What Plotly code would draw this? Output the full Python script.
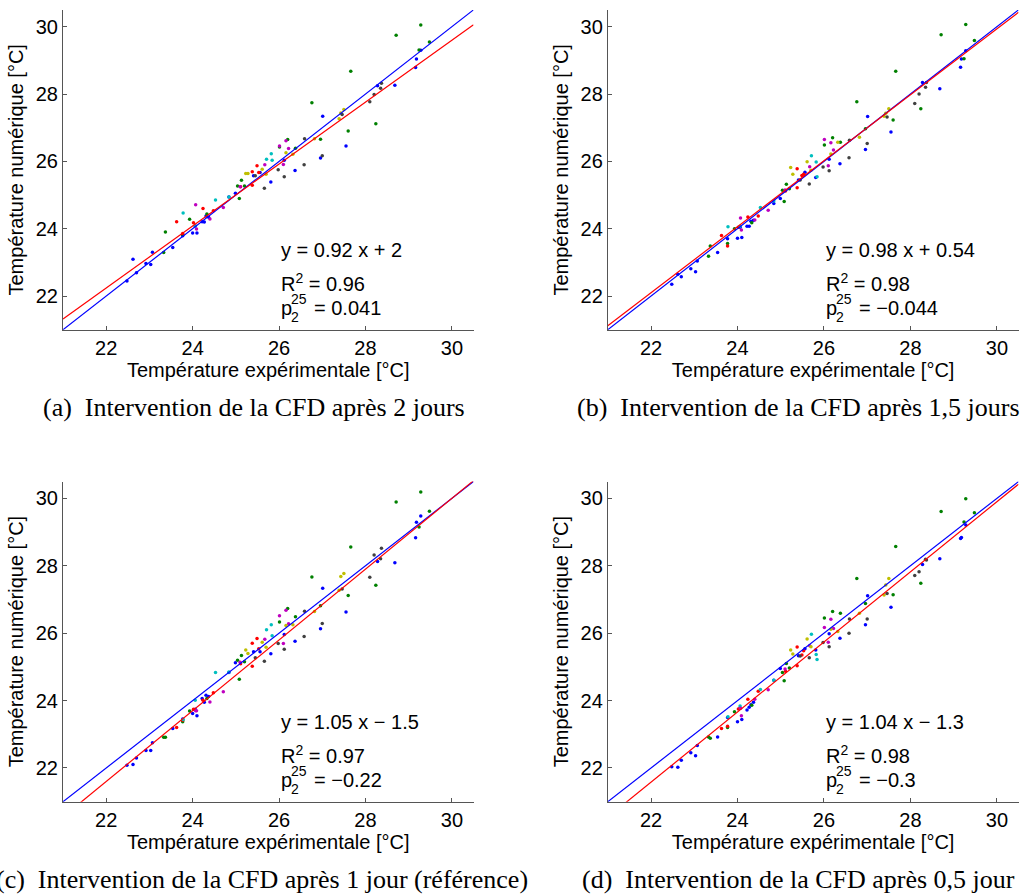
import plotly.graph_objects as go
from plotly.subplots import make_subplots

# ---- Measured (experimental) temperatures per sensor group [°C] ----
exp_blue = [22.48, 22.62, 22.70, 22.92, 23.03, 23.07, 23.54, 23.77, 24.00, 24.10,
            24.06, 24.22, 24.27, 24.31, 24.37, 24.84, 24.99, 25.41, 25.56, 25.81,
            26.12, 26.37, 26.96, 27.01, 27.55, 28.28, 28.68, 29.16, 29.18, 29.28]
exp_green = [23.33, 23.37, 23.77, 23.93, 24.33, 25.04, 25.08, 25.13, 25.20, 26.01,
             26.20, 26.38, 26.76, 26.96, 27.60, 27.66, 28.24, 28.71, 29.24, 29.28, 29.48]
exp_red = [23.63, 23.77, 24.02, 24.24, 24.48, 25.11, 25.38, 25.38, 25.49, 25.53]
exp_cyan = [23.78, 24.06, 24.53, 24.84, 25.71, 25.82, 25.84]
exp_magenta = [24.07, 24.09, 24.40, 24.71, 25.10, 25.67, 26.01, 26.10, 26.16, 26.22]
exp_yellow = [25.23, 25.28, 25.61, 25.70, 26.16, 26.32, 26.82, 27.39, 27.50, 27.43]
exp_gray = [25.45, 25.66, 25.98, 26.12, 26.58, 26.59, 27.00, 27.46, 28.10, 28.20, 28.35, 28.37]

# ---- Simulated temperatures, CFD after 2 days ----
num_a_blue = [22.45, 23.09, 22.69, 22.97, 22.94, 23.30, 23.44, 23.79, 23.87, 23.87,
              24.08, 24.21, 24.20, 24.38, 24.34, 24.94, 25.05, 25.57, 25.67, 25.39,
              26.03, 25.73, 26.10, 27.34, 26.46, 28.25, 28.26, 28.79, 29.04, 29.30]
num_a_green = [23.29, 23.90, 23.83, 24.28, 24.44, 25.27, 24.90, 25.44, 25.27, 26.43,
               26.65, 26.39, 27.74, 26.66, 26.90, 28.68, 27.12, 29.75, 29.31, 30.05, 29.55]
num_a_red = [24.21, 23.86, 24.18, 24.60, 24.53, 25.25, 25.29, 25.69, 25.87, 25.67]
num_a_cyan = [24.47, 24.08, 24.85, 24.94, 26.06, 26.23, 26.03]
num_a_magenta = [24.71, 23.99, 24.29, 24.63, 25.25, 25.90, 26.46, 25.91, 26.61, 26.38]
num_a_yellow = [25.64, 25.64, 25.77, 25.62, 26.26, 26.21, 26.67, 27.27, 27.54, 27.44]
num_a_gray = [25.57, 25.20, 25.75, 25.54, 25.90, 26.67, 26.17, 27.39, 27.77, 27.99, 28.17, 28.32]

# ---- Simulated temperatures, CFD after 1.5 days ----
num_b_blue = [22.35, 22.65, 22.57, 22.81, 22.72, 23.04, 23.29, 23.70, 23.72, 23.74,
              24.04, 24.07, 24.07, 24.22, 24.25, 24.75, 24.90, 25.45, 25.68, 25.52,
              26.06, 25.93, 26.35, 27.33, 26.87, 28.34, 28.16, 28.80, 29.04, 29.29]
num_b_green = [23.18, 23.49, 23.56, 24.00, 24.18, 25.14, 24.81, 25.32, 25.19, 26.49,
               26.70, 26.57, 27.77, 26.97, 27.23, 28.68, 27.56, 29.76, 29.05, 30.07, 29.59]
num_b_red = [23.80, 23.49, 24.04, 24.35, 24.38, 25.12, 25.22, 25.78, 25.58, 25.62]
num_b_cyan = [24.06, 24.07, 24.63, 24.82, 26.17, 25.98, 25.54]
num_b_magenta = [24.32, 23.96, 24.26, 24.55, 25.15, 25.84, 26.65, 25.87, 26.55, 26.34]
num_b_yellow = [25.82, 25.62, 25.99, 25.74, 26.22, 26.57, 26.72, 27.34, 27.56, 27.43]
num_b_gray = [25.45, 25.33, 25.83, 25.72, 26.11, 26.63, 26.53, 27.32, 27.72, 28.00, 28.20, 28.34]

# ---- Simulated temperatures, CFD after 1 day (reference) ----
num_c_blue = [22.08, 22.10, 22.30, 22.52, 22.52, 22.75, 23.17, 23.45, 23.62, 23.55,
              23.74, 24.06, 23.95, 24.16, 24.12, 24.83, 25.12, 25.45, 25.45, 25.39,
              25.96, 25.76, 26.13, 27.33, 26.63, 28.13, 28.09, 28.83, 29.29, 29.48]
num_c_green = [22.91, 22.91, 23.37, 23.69, 24.06, 25.20, 24.63, 25.34, 25.15, 26.33,
               26.73, 26.49, 27.67, 26.81, 27.12, 28.56, 27.42, 29.89, 29.15, 30.19, 29.62]
num_c_red = [23.20, 23.42, 23.74, 24.01, 24.23, 25.09, 25.02, 25.70, 25.84, 25.54]
num_c_cyan = [23.44, 24.01, 24.83, 24.85, 26.10, 26.25, 25.92]
num_c_magenta = [23.70, 23.70, 23.96, 24.26, 25.14, 25.82, 26.52, 25.69, 26.68, 26.28]
num_c_yellow = [25.50, 25.40, 25.73, 25.58, 26.23, 26.25, 26.64, 27.27, 27.77, 27.68]
num_c_gray = [25.27, 25.17, 25.69, 25.52, 25.90, 26.65, 26.29, 27.31, 27.66, 28.32, 28.21, 28.52]

# ---- Simulated temperatures, CFD after 0.5 day ----
num_d_blue = [22.04, 22.02, 22.23, 22.45, 22.36, 22.67, 22.92, 23.50, 23.37, 23.44,
              23.78, 23.72, 23.80, 23.88, 23.95, 24.60, 24.95, 25.33, 25.54, 25.50,
              25.98, 25.85, 26.25, 27.11, 26.77, 28.04, 28.21, 28.81, 28.84, 29.21]
num_d_green = [22.92, 22.88, 23.20, 23.67, 23.86, 24.83, 24.59, 25.10, 24.97, 26.45,
               26.64, 26.59, 27.62, 26.88, 27.14, 28.57, 27.48, 29.61, 29.30, 29.99, 29.57]
num_d_red = [23.17, 23.24, 23.75, 24.04, 24.28, 24.87, 25.03, 25.59, 25.35, 25.48]
num_d_cyan = [23.52, 23.84, 24.33, 24.60, 25.97, 25.37, 25.22]
num_d_magenta = [23.77, 23.55, 24.04, 24.32, 24.94, 25.63, 26.17, 25.73, 26.41, 26.14]
num_d_yellow = [25.50, 25.38, 25.83, 25.60, 26.12, 26.05, 26.59, 27.13, 27.62, 27.43]
num_d_gray = [25.32, 25.27, 25.72, 25.60, 26.00, 26.42, 26.42, 27.18, 27.71, 27.82, 28.19, 28.17]

# ---- Linear fits and statistics ----
fit_slope = [0.92, 0.98, 1.05, 1.04]
fit_intercept = [2, 0.54, -1.5, -1.3]
fit_eq = ["y = 0.92 x + 2", "y = 0.98 x + 0.54", "y = 1.05 x \u2212 1.5", "y = 1.04 x \u2212 1.3"]
r2_text = ["0.96", "0.98", "0.97", "0.98"]
p_text = ["0.041", "\u22120.044", "\u22120.22", "\u22120.3"]
captions = ["(a)  Intervention de la CFD après 2 jours",
            "(b)  Intervention de la CFD après 1,5 jours",
            "(c)  Intervention de la CFD après 1 jour (référence)",
            "(d)  Intervention de la CFD après 0,5 jour"]

tick_vals = [22, 24, 26, 28, 30]
axis_range = [21, 30.5]

group_colors = ["#0000ff", "#008000", "#ff0000", "#00bfbf", "#bf00bf", "#bfbf00", "#404040"]
exp_groups = [exp_blue, exp_green, exp_red, exp_cyan, exp_magenta, exp_yellow, exp_gray]
num_panels = [
    [num_a_blue, num_a_green, num_a_red, num_a_cyan, num_a_magenta, num_a_yellow, num_a_gray],
    [num_b_blue, num_b_green, num_b_red, num_b_cyan, num_b_magenta, num_b_yellow, num_b_gray],
    [num_c_blue, num_c_green, num_c_red, num_c_cyan, num_c_magenta, num_c_yellow, num_c_gray],
    [num_d_blue, num_d_green, num_d_red, num_d_cyan, num_d_magenta, num_d_yellow, num_d_gray],
]

W, H = 1026, 896
SANS = "Liberation Sans, Arial, Helvetica, sans-serif"
SERIF = "Liberation Serif, Times New Roman, serif"
AXIS_GRAY = "#555555"

fig = make_subplots(rows=2, cols=2)

cells = [(1, 1), (1, 2), (2, 1), (2, 2)]
for k, (r, c) in enumerate(cells):
    for xs, ys, col in zip(exp_groups, num_panels[k], group_colors):
        fig.add_trace(go.Scatter(x=xs, y=ys, mode="markers",
                                 marker=dict(color=col, size=3.5, line=dict(width=0)),
                                 hoverinfo="skip"), row=r, col=c)
    # identity line
    fig.add_trace(go.Scatter(x=axis_range, y=axis_range, mode="lines",
                             line=dict(color="#0000ff", width=1.2)), row=r, col=c)
    # regression line
    fx = axis_range
    fy = [fit_slope[k] * v + fit_intercept[k] for v in fx]
    fig.add_trace(go.Scatter(x=fx, y=fy, mode="lines",
                             line=dict(color="#ff0000", width=1.2)), row=r, col=c)

# pixel geometry of the four plotting areas
x_dom = [[63 / W, 473.5 / W], [607.8 / W, 1018.5 / W]]
y_dom = [[(H - 329.7) / H, (H - 9.9) / H], [(H - 801.7) / H, (H - 481.5) / H]]

axis_common = dict(range=axis_range, tickvals=tick_vals, showgrid=False, zeroline=False,
                   showline=True, linecolor=AXIS_GRAY, linewidth=1, ticks="inside",
                   ticklen=4, tickwidth=1, tickcolor=AXIS_GRAY,
                   tickfont=dict(family=SANS, size=20, color="black"))

for k, (r, c) in enumerate(cells):
    sfx = "" if k == 0 else str(k + 1)
    fig.layout["xaxis" + sfx].update(
        domain=x_dom[c - 1], anchor="y" + sfx,
        title=dict(text="Température expérimentale [°C]", standoff=4,
                   font=dict(family=SANS, size=20, color="black")),
        **axis_common)
    fig.layout["yaxis" + sfx].update(
        domain=y_dom[r - 1], anchor="x" + sfx,
        title=dict(text="Température numérique [°C]", standoff=6,
                   font=dict(family=SANS, size=20, color="black")),
        **axis_common)

annotations = []
txt_font = dict(family=SANS, size=20, color="black")
small_font = dict(family=SANS, size=14, color="black")
for k in range(4):
    sfx = "" if k == 0 else str(k + 1)
    xr, yr = "x" + sfx, "y" + sfx
    annotations.append(dict(x=26, y=23.37, xref=xr, yref=yr, text=fit_eq[k],
                            xanchor="left", yanchor="middle", showarrow=False, font=txt_font))
    annotations.append(dict(x=26, y=22.39, xref=xr, yref=yr,
                            text="R<sup>2</sup> = " + r2_text[k],
                            xanchor="left", yanchor="middle", showarrow=False, font=txt_font))
    annotations.append(dict(x=26, y=21.63, xref=xr, yref=yr, text="p",
                            xanchor="left", yanchor="middle", showarrow=False, font=txt_font))
    annotations.append(dict(x=26, y=21.63, xref=xr, yref=yr, text="25", xshift=10, yshift=9,
                            xanchor="left", yanchor="middle", showarrow=False, font=small_font))
    annotations.append(dict(x=26, y=21.63, xref=xr, yref=yr, text="2", xshift=10, yshift=-9,
                            xanchor="left", yanchor="middle", showarrow=False, font=small_font))
    annotations.append(dict(x=26, y=21.63, xref=xr, yref=yr, text="= " + p_text[k], xshift=33,
                            xanchor="left", yanchor="middle", showarrow=False, font=txt_font))

cap_pos = [(254, 408), (798, 408), (262, 879), (798, 879)]
for k, (cx, cy) in enumerate(cap_pos):
    annotations.append(dict(x=cx / W, y=1 - cy / H, xref="paper", yref="paper",
                            text=captions[k], showarrow=False, xanchor="center",
                            yanchor="middle",
                            font=dict(family=SERIF, size=26, color="black")))

fig.update_layout(width=W, height=H, margin=dict(l=0, r=0, t=0, b=0),
                  paper_bgcolor="white", plot_bgcolor="white", showlegend=False,
                  annotations=annotations)

fig.write_html("out.html")
